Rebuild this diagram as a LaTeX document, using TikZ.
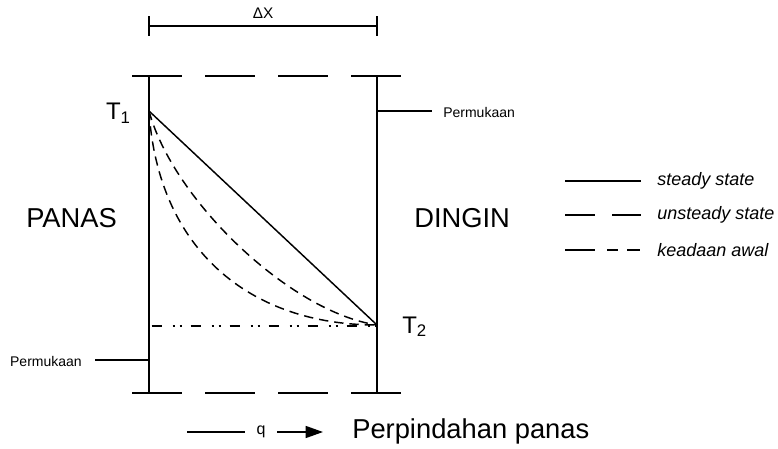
\documentclass[tikz,border=0pt]{standalone}
\usepackage{fontspec}
\setmainfont{Liberation Sans}
\usetikzlibrary{arrows.meta}
\begin{document}
\begin{tikzpicture}[x=0.75pt,y=-0.75pt,
  ln/.style={line width=1.1pt, line cap=butt},
  wallline/.style={line width=1.2pt},
  longdash/.style={ln, dash pattern=on 37.5pt off 17.25pt},
  curvedash/.style={ln, dash pattern=on 7pt off 4.5pt},
  dashdot/.style={ln, dash pattern=on 7.5pt off 8.25pt on 1.5pt off 3.75pt on 1.5pt off 6.75pt, dash phase=-2pt},
  lbl/.style={inner sep=0pt, font=\fontsize{10.5}{12}\selectfont},
  big/.style={inner sep=0pt, font=\fontsize{20.5}{24}\selectfont},
  leg/.style={inner sep=0pt, anchor=west, font=\fontsize{13.5}{16}\selectfont\itshape},
  tlab/.style={inner sep=0pt, font=\fontsize{18}{20}\selectfont}
]
\useasboundingbox (0,0) rectangle (778,449);
% coordinates
\coordinate (tl) at (149,76);
\coordinate (bl) at (149,393);
\coordinate (tr) at (377,76);
\coordinate (br) at (377,393);
\coordinate (t1) at (149,111);
\coordinate (t2) at (377,325);
\coordinate (bl2) at (149,326);
% walls
\draw[wallline] (tl) -- (bl);
\draw[wallline] (tr) -- (br);
% top and bottom dashed lines
\coordinate (topL) at (132,76); \coordinate (topR) at (403,76);
\coordinate (botL) at (132,393); \coordinate (botR) at (403,393);
\draw[longdash] (topL) -- (topR);
\draw[longdash] (botL) -- (botR);
% delta x dimension
\coordinate (dxL) at (149,26); \coordinate (dxR) at (377,26);
\draw[ln] (dxL) -- (dxR);
\draw[ln] ([yshift=-7.5pt]dxL) -- ([yshift=7.5pt]dxL);
\draw[ln] ([yshift=-7.5pt]dxR) -- ([yshift=7.5pt]dxR);
\node[lbl, anchor=base, font=\fontsize{11.5}{13}\selectfont] (dx) at (263,19) {ΔX};
% steady state line
\draw[ln] (t1) -- (t2);
% dashed curves
\draw[curvedash] (t1) .. controls (158,250) and (250,325) .. (t2);
\draw[curvedash] (t1) .. controls (173,200) and (290,312) .. (t2);
% dash-dot baseline
\coordinate (br2) at (377,326);
\draw[dashdot] (bl2) -- (br2);
% labels T1, T2
\node[tlab, anchor=base east] (T1) at (131,120) {T\textsubscript{1}};
\node[tlab, anchor=base west] (T2) at (402,333) {T\textsubscript{2}};
% PANAS DINGIN
\node[big, anchor=base west] (panas) at (26,227) {PANAS};
\node[big, anchor=base west] (dingin) at (414,227) {DINGIN};
% Permukaan labels
\coordinate (pr) at (377,111);
\node[lbl, anchor=west] (permR) at (443,112) {Permukaan};
\draw[ln] (pr) -- (432,111);
\coordinate (pl) at (149,360);
\node[lbl, anchor=east] (permL) at (82,361) {Permukaan};
\draw[ln] (pl) -- (95,360);
% legend
\coordinate (l1a) at (565,181); \coordinate (l1b) at (641,181);
\draw[ln] (l1a) -- (l1b);
\node[leg] (leg1) at (657,181) {steady state};
\coordinate (l2a) at (565,215); \coordinate (l2b) at (595,215);
\coordinate (l2c) at (612,215); \coordinate (l2d) at (641,215);
\draw[ln] (l2a) -- (l2b);
\draw[ln] (l2c) -- (l2d);
\node[leg] (leg2) at (657,215) {unsteady state};
\coordinate (l3a) at (565,250); \coordinate (l3b) at (595,250);
\coordinate (l3c) at (607,250); \coordinate (l3d) at (618,250);
\coordinate (l3e) at (627,250); \coordinate (l3f) at (640,250);
\draw[ln] (l3a) -- (l3b);
\draw[ln] (l3c) -- (l3d);
\draw[ln] (l3e) -- (l3f);
\node[leg] (leg3) at (657,250) {keadaan awal};
% heat flow
\coordinate (qa) at (187,432); \coordinate (qb) at (245,432);
\draw[ln] (qa) -- (qb);
\node[lbl, anchor=base, font=\fontsize{12}{14}\selectfont] (q) at (261,434) {q};
\coordinate (qc) at (277,432); \coordinate (qd) at (323,432);
\draw[ln, -{Triangle[length=13pt,width=9pt]}] (qc) -- (qd);
\node[big, anchor=base west] (perp) at (352,438) {Perpindahan panas};
\end{tikzpicture}
\end{document}
